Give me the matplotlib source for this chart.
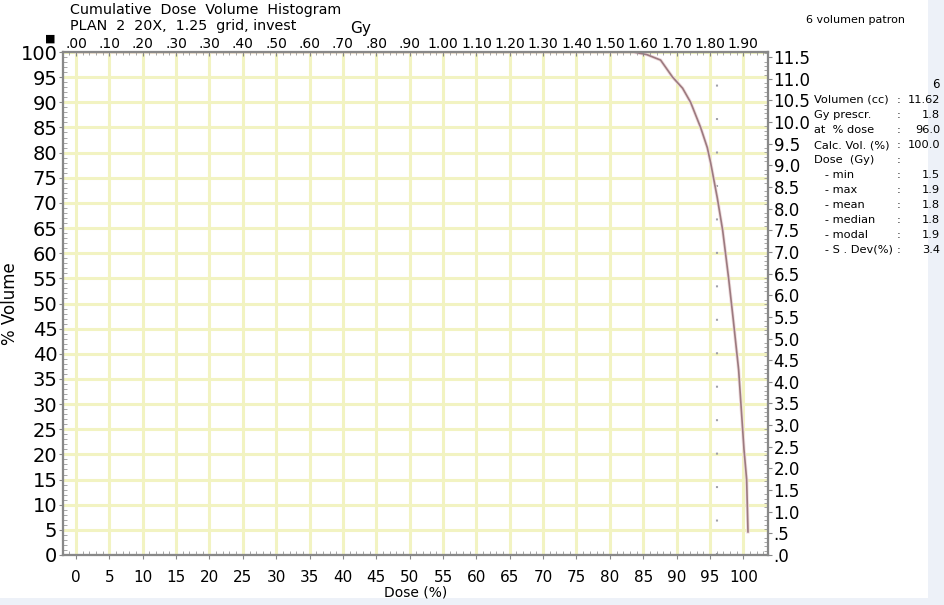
import matplotlib.pyplot as plt
from matplotlib.patches import Rectangle
from matplotlib.ticker import MultipleLocator

# DVH curve
dose_pct = [0, 83.5, 85.5, 87.6, 89.4, 90.9, 92.1, 93.6, 94.6, 95.1, 96.1,
            96.9, 97.8, 98.5, 99.3, 99.9, 100.1, 100.5, 100.7]
volume_pct = [100, 100, 99.5, 98.4, 95, 92.8, 90, 85, 81, 78, 71,
              64.6, 55, 46.7, 36.8, 25, 21, 15, 4.6]

volume_cc = 11.62
presc_pct = 96.0

gy_labels = [".00", ".10", ".20", ".30", ".30", ".40", ".50", ".60", ".70", ".80",
             ".90", "1.00", "1.10", "1.20", "1.30", "1.40", "1.50", "1.60",
             "1.70", "1.80", "1.90"]
x_ticks = list(range(0, 101, 5))
y_ticks = list(range(0, 101, 5))
cc_ticks = [i * 0.5 for i in range(24)]

stat_labels = ["Volumen (cc)", "Gy prescr.", "at  % dose", "Calc. Vol. (%)",
               "Dose  (Gy)", "   - min", "   - max", "   - mean", "   - median",
               "   - modal", "   - S . Dev(%)"]
stat_values = ["11.62", "1.8", "96.0", "100.0", "", "1.5", "1.9", "1.8", "1.8",
               "1.9", "3.4"]

W, H = 944, 605
plt.rcParams['font.family'] = ['DejaVu Sans']


def fx(x):
    return x / W


def fy(y):
    return 1 - y / H


fig = plt.figure(figsize=(W / 100, H / 100), dpi=100, facecolor='#edf1f8')
fig.patches.append(Rectangle((0, fy(598)), fx(928), 1 - fy(598),
                             transform=fig.transFigure, facecolor='white',
                             edgecolor='none', zorder=-5))

ax = fig.add_axes([fx(63), fy(555), fx(768) - fx(63), fy(52) - fy(555)])
ax.set_xlim(-1.95, 103.7)
ax.set_ylim(0, 100)
ax.set_facecolor('white')

for v in x_ticks:
    ax.axvline(v, color='#f2f3c2', lw=2.2, zorder=1)
for v in y_ticks:
    ax.axhline(v, color='#f2f3c2', lw=2.2, zorder=1)

ax.axvline(presc_pct, ymax=0.95, color='#a0a0a8', lw=1.5,
           linestyle=(0, (0.96, 15.1)), zorder=2)
ax.plot(dose_pct, volume_pct, color='#efdcdc', lw=2.4, zorder=3)
ax.plot(dose_pct, volume_pct, color='#9c7a80', lw=1.2, zorder=3)

ax.set_xticks(x_ticks)
ax.set_xticklabels([str(v) for v in x_ticks], fontsize=11)
ax.set_yticks(y_ticks)
ax.set_yticklabels([str(v) for v in y_ticks], fontsize=14)
ax.xaxis.set_minor_locator(MultipleLocator(1))
ax.yaxis.set_minor_locator(MultipleLocator(1))
ax.tick_params(which='major', direction='out', length=3, color='#888888',
               pad=1)
ax.tick_params(which='minor', direction='in', length=3, color='#999999')
ax.tick_params(axis='x', pad=8)
for s in ax.spines.values():
    s.set_color('#888888')
    s.set_linewidth(1.5)

ax.set_xlabel('Dose (%)', fontsize=10, labelpad=0)
ax.set_ylabel('% Volume', fontsize=12)
ax.yaxis.set_label_coords(-0.062, 0.5)

top = ax.twiny()
top.set_xlim(ax.get_xlim())
top.set_xticks(x_ticks)
top.set_xticklabels(gy_labels, fontsize=10)
top.xaxis.set_minor_locator(MultipleLocator(1))
top.tick_params(which='major', direction='in', length=3, color='#888888', pad=1)
top.tick_params(which='minor', direction='in', length=2, color='#999999')

right = ax.twinx()
right.set_ylim(0, volume_cc)
right.set_yticks(cc_ticks)
right.set_yticklabels([f"{v:.1f}".lstrip('0') if v < 1 else f"{v:.1f}"
                       for v in cc_ticks], fontsize=12)
right.yaxis.set_minor_locator(MultipleLocator(0.1))
right.tick_params(which='major', direction='out', length=3, color='#888888',
                  pad=1)
right.tick_params(which='minor', direction='in', length=3, color='#999999')
for a in (top, right):
    for s in a.spines.values():
        s.set_color('#888888')
        s.set_linewidth(1.5)

fig.text(fx(70), fy(10), 'Cumulative  Dose  Volume  Histogram', fontsize=10.3,
         va='center', ha='left')
fig.text(fx(70), fy(26), 'PLAN  2  20X,  1.25  grid, invest', fontsize=10.3,
         va='center', ha='left')
fig.text(fx(361), fy(28), 'Gy', fontsize=11, va='center', ha='center')
fig.text(fx(50), fy(39), '■', fontsize=8, va='center', ha='center')

fig.text(fx(905), fy(20), '6 volumen patron', fontsize=8, va='center',
         ha='right')
fig.text(fx(940), fy(85), '6', fontsize=8.5, va='center', ha='right')
for i, (lab, val) in enumerate(zip(stat_labels, stat_values)):
    y = 100 + 15 * i
    fig.text(fx(814), fy(y), lab, fontsize=8.2, va='center', ha='left')
    fig.text(fx(899), fy(y), ':', fontsize=8.2, va='center', ha='center')
    if val:
        fig.text(fx(940), fy(y), val, fontsize=8.2, va='center', ha='right')

fig.savefig('out.png', dpi=100, facecolor=fig.get_facecolor())
